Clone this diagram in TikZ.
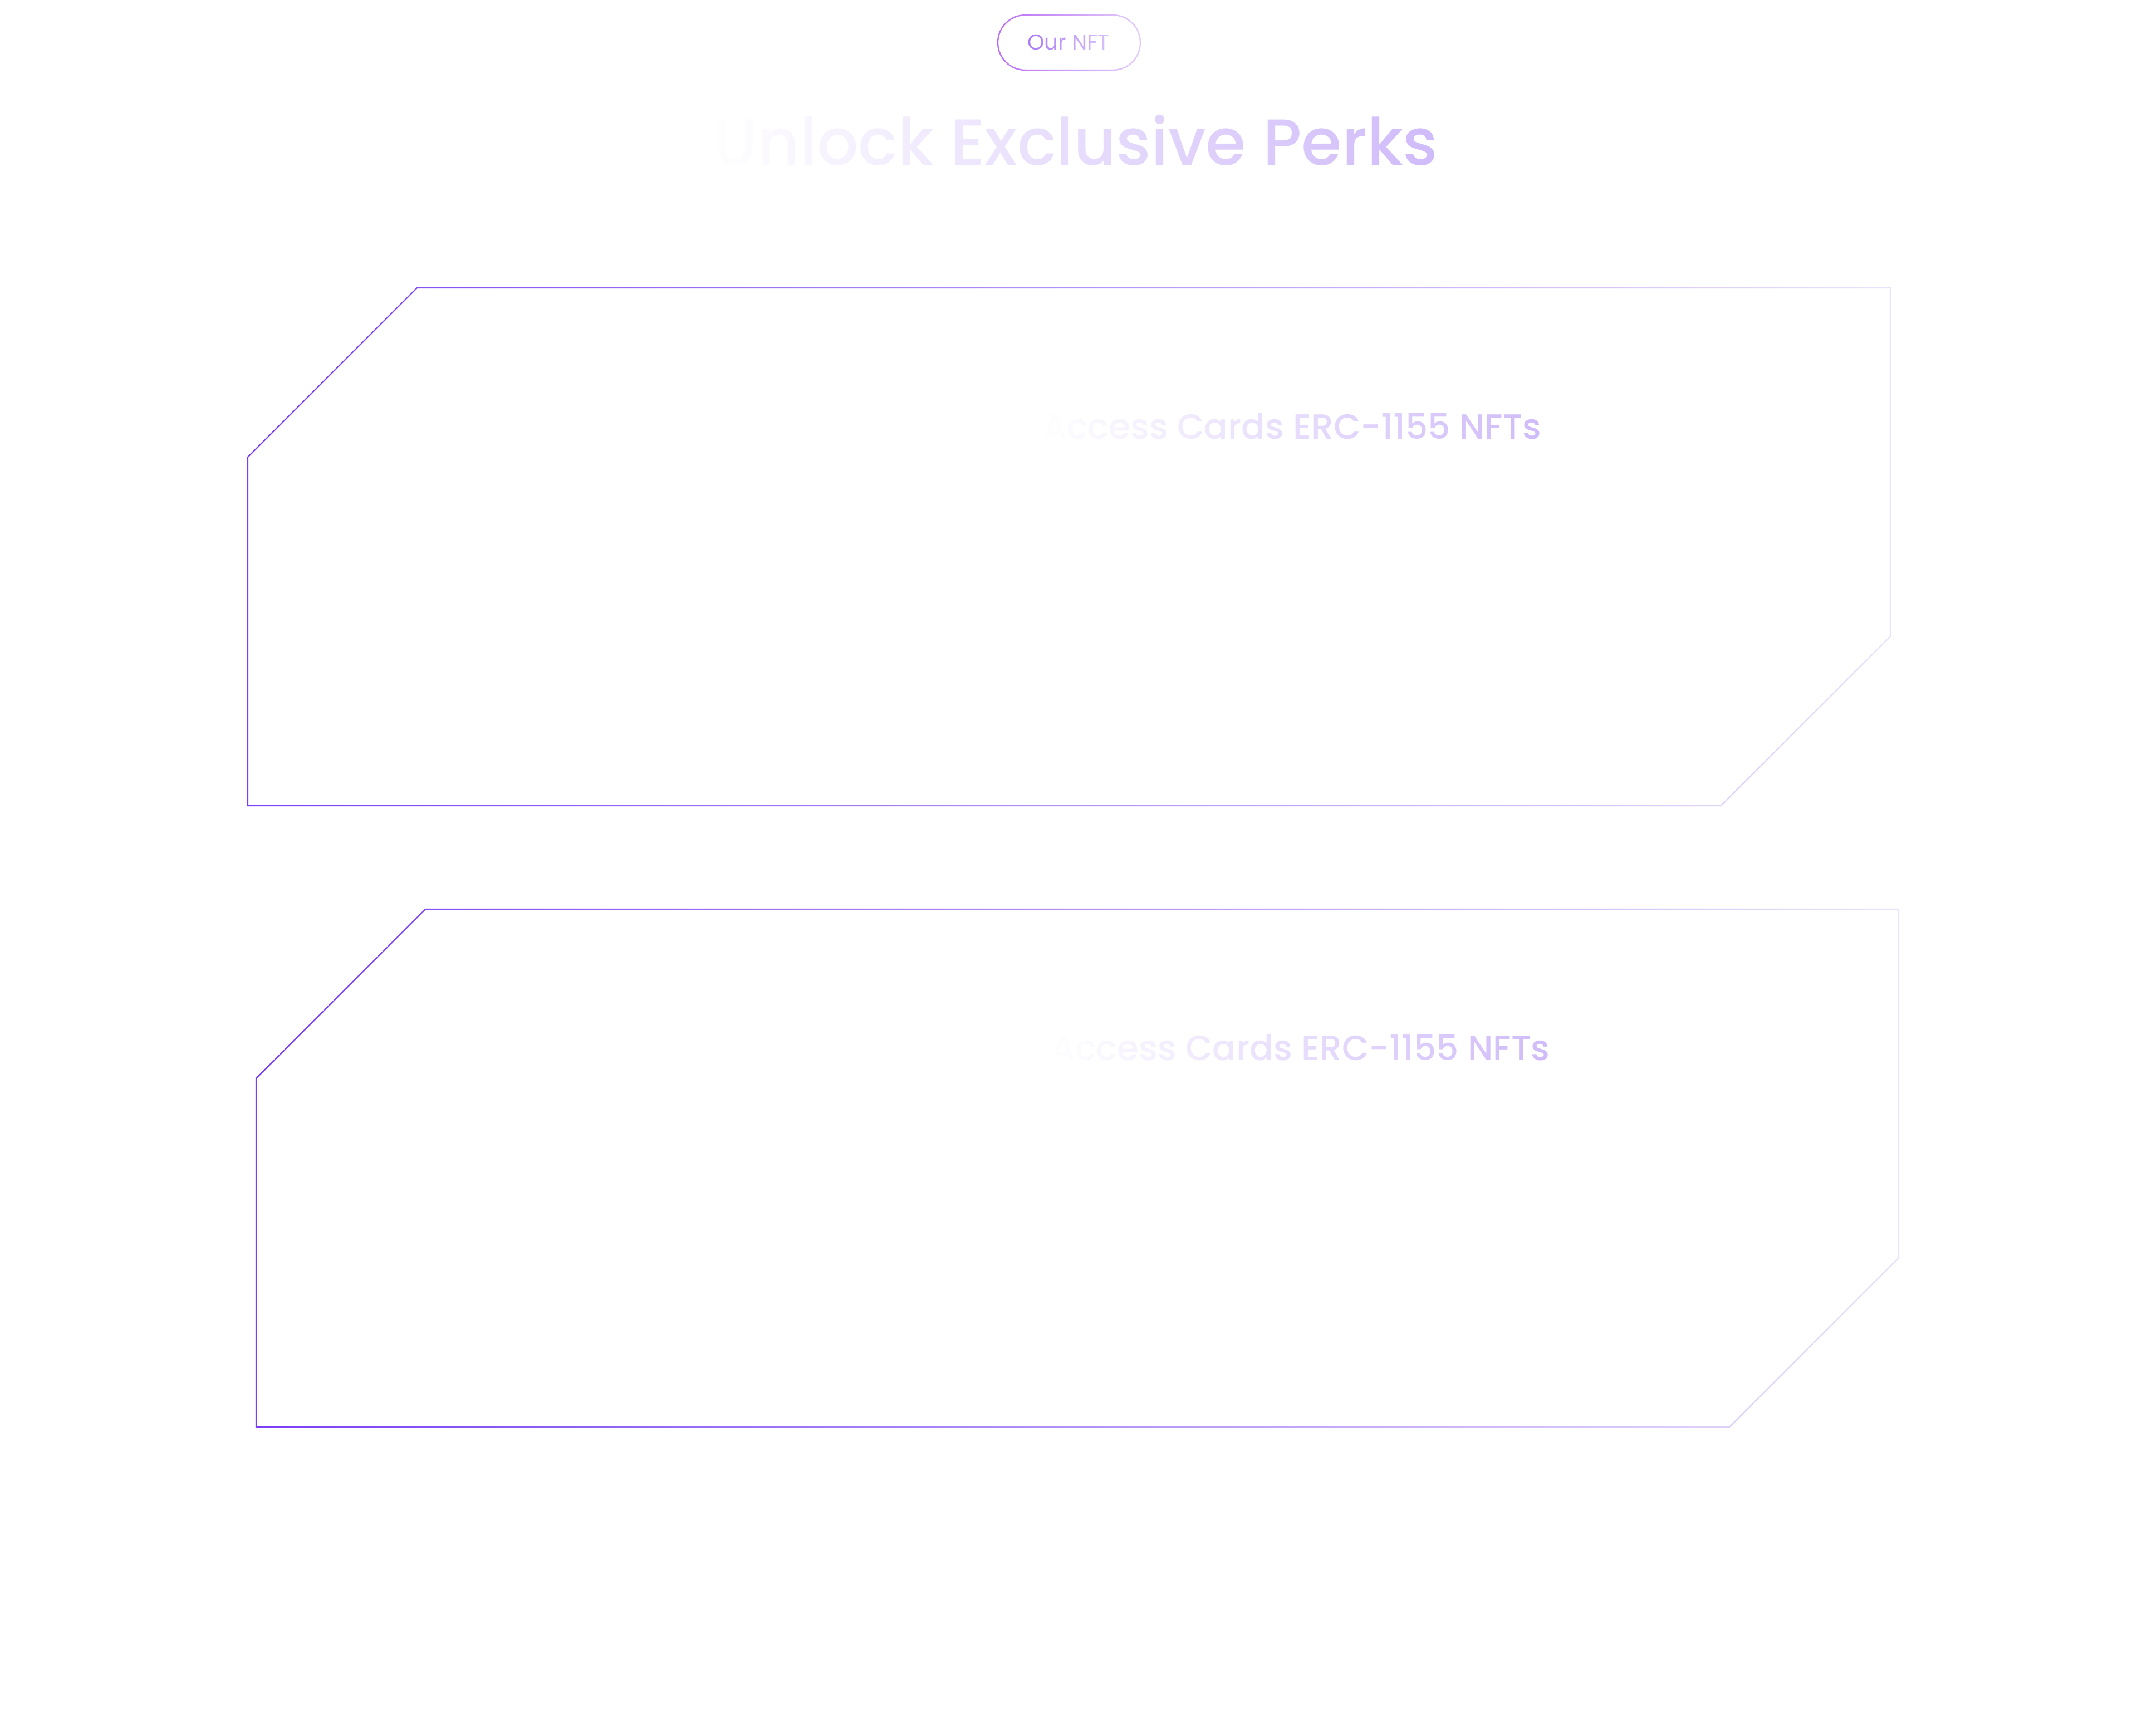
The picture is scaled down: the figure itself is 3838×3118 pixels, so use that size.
\documentclass[tikz,border=0pt]{standalone}
\usepackage{fontspec}
\newfontfamily\headfont{Poppins Medium}
\newfontfamily\bodyfont{Poppins}
\usetikzlibrary{fadings}

\definecolor{cardL}{HTML}{7A3FF4}
\definecolor{cardR}{HTML}{EAE3FA}
\definecolor{tagL}{HTML}{BA6CF5}
\definecolor{tagR}{HTML}{E2CFFB}
\definecolor{tagtext}{HTML}{A97BF7}
\definecolor{lilac}{HTML}{D0BBFA}

\tikzfading[name=fadeout, left color=transparent!0, right color=transparent!100]
\tikzfading[name=fadeoutslow, left color=transparent!0, middle color=transparent!40, right color=transparent!100]
\tikzfading[name=fadein, left color=transparent!100, right color=transparent!45]

% outline of a card: #1,#2 = top left of its box, #3 = offset of the edge
\newcommand{\cardedge}[3]{({#1-(#3)},{#2+304-0.41*(#3)}) -- ({#1+304-0.41*(#3)},{#2-(#3)}) -- ({#1+2950+(#3)},{#2-(#3)}) -- ({#1+2950+(#3)},{#2+626+0.41*(#3)}) -- ({#1+2646+0.41*(#3)},{#2+930+(#3)}) -- ({#1-(#3)},{#2+930+(#3)}) -- cycle}

\begin{document}
\begin{tikzpicture}[x=0.01cm, y=-0.01cm]
    \useasboundingbox (0,0) rectangle (3838,3118);
    \fill[white] (0,0) rectangle (3838,3118);

    %tag
    \shade[left color=tagL, right color=tagR, even odd rule]
        {[rounded corners=14.4pt] (1790.8,25.8) rectangle (2049.2,127.2)}
        {[rounded corners=13.7pt] (1793.2,28.2) rectangle (2046.8,124.8)};
    \node[anchor=base, inner sep=0, text=tagtext, font=\bodyfont\fontsize{11}{13}\selectfont] (tag) at (1919,90) {Our NFT};
    \fill[white, path fading=fadein] (tag.south west) rectangle (tag.north east);

    %heading
    \node[anchor=base, inner sep=0, text=lilac, font=\headfont\fontsize{33.3}{40}\selectfont] (heading) at (1931,297) {Unlock Exclusive Perks};
    \fill[white, path fading=fadeout] (heading.south west) rectangle (heading.north east);

    %cards
    \shade[left color=cardL, right color=cardR, even odd rule] \cardedge{445}{517}{1.2} \cardedge{445}{517}{-1.2};
    \shade[left color=cardL, right color=cardR, even odd rule] \cardedge{460}{1633}{1.2} \cardedge{460}{1633}{-1.2};

    \node[anchor=base east, inner sep=0, text=lilac, font=\headfont\fontsize{17.9}{21}\selectfont] (cardA) at (2769,788) {Access Cards ERC-1155 NFTs};
    \fill[white, path fading=fadeoutslow] (cardA.south west) rectangle (cardA.north east);
    \node[anchor=base east, inner sep=0, text=lilac, font=\headfont\fontsize{17.9}{21}\selectfont] (cardB) at (2784,1904) {Access Cards ERC-1155 NFTs};
    \fill[white, path fading=fadeoutslow] (cardB.south west) rectangle (cardB.north east);
\end{tikzpicture}
\end{document}
